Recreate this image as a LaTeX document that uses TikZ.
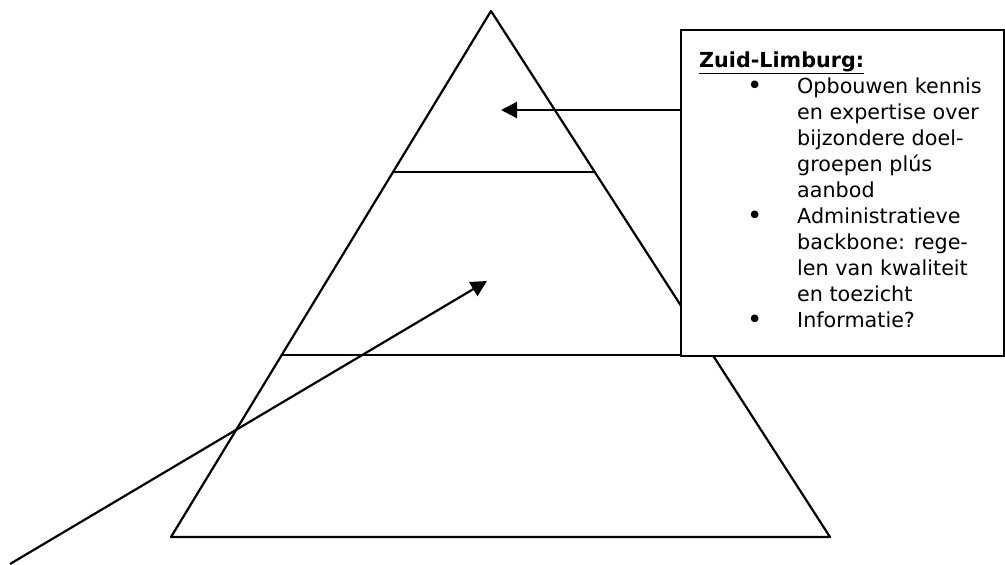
\documentclass[tikz,border=0pt]{standalone}
\usepackage{fontspec}
\setmainfont{DejaVu Sans}
\usetikzlibrary{arrows.meta,calc}
\tikzset{
  edge/.style={line width=2.2pt, line join=round},
  arr/.style={line width=2.2pt, -{Triangle[length=16pt,width=16pt]}},
  boxtext/.style={anchor=base west, inner sep=0pt, font=\fontsize{20.7pt}{26pt}\selectfont},
  bullet/.style={anchor=base west, inner sep=0pt, font=\fontsize{26pt}{26pt}\selectfont}
}
\begin{document}
\begin{tikzpicture}[x=1pt,y=-1pt]
\useasboundingbox (0,0) rectangle (1005,565);
% pyramid
\coordinate (apex) at (491,11);
\coordinate (bl) at (171,537);
\coordinate (br) at (830,537);
\draw[edge] (bl) -- (apex) -- (br) -- cycle;
\coordinate (l1) at ($(apex)!0.306!(bl)$);
\coordinate (r1) at ($(apex)!0.306!(br)$);
\draw[edge] (l1) -- (r1);
\coordinate (l2) at ($(apex)!0.6546!(bl)$);
% box
\node[draw, fill=white, line width=2.2pt, anchor=north west, inner sep=0pt,
      minimum width=323pt, minimum height=326pt] (box) at (680,29) {};
\draw[edge] (l2) -- (l2 -| box.west);
% text
\node[boxtext] (h) at (699,67) {\textbf{\underline{Zuid-Limburg:}}};
\foreach \i/\b/\t in {
  1/1/Opbouwen kennis,
  2/0/en expertise over,
  3/0/bijzondere doel-,
  4/0/groepen plús,
  5/0/aanbod,
  6/1/Administratieve,
  7/0/backbone: rege-,
  8/0/len van kwaliteit,
  9/0/en toezicht,
  10/1/Informatie?} {
  \node[boxtext] (line\i) at (797,{67+26*\i}) {\t};
  \ifnum\b=1 \node[bullet] (bul\i) at (747,{68+26*\i}) {\textbullet}; \fi
}
% arrows
\coordinate (t1) at (501,110);
\draw[arr] (box.west |- t1) -- (t1);
\coordinate (s2) at (10,564);
\coordinate (t2) at (487,281);
\draw[arr] (s2) -- (t2);
\end{tikzpicture}
\end{document}
